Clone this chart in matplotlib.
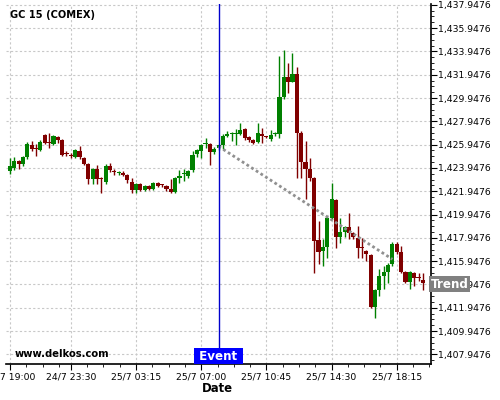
import matplotlib
matplotlib.use("Agg")
import matplotlib.pyplot as plt
import matplotlib.transforms as mtransforms
from matplotlib.ticker import FixedLocator, MultipleLocator, FuncFormatter

# 15 minute candles, GC COMEX
opens = [1423.72, 1423.97, 1424.58, 1424.32, 1424.92, 1425.95, 1425.61, 1425.52, 1426.81, 1426.12,
         1426.04, 1426.64, 1426.38, 1425.18, 1425.02, 1424.92, 1425.43, 1424.83, 1424.32, 1423.03,
         1423.89, 1423.11, 1422.77, 1424.15, 1423.66, 1423.52, 1423.54, 1423.37, 1422.77, 1422.08,
         1422.60, 1422.08, 1422.43, 1422.17, 1422.68, 1422.55, 1422.43, 1422.17, 1421.91, 1423.11,
         1423.42, 1423.29, 1423.80, 1425.18, 1425.43, 1426.02, 1426.04, 1425.35, 1425.69, 1425.95,
         1426.72, 1426.88, 1426.88, 1426.90, 1427.32, 1426.64, 1426.38, 1426.21, 1426.90, 1426.66,
         1426.47, 1426.88, 1426.90, 1430.07, 1431.71, 1431.36, 1432.05, 1426.98, 1424.49, 1423.89,
         1423.11, 1417.79, 1416.85, 1417.19, 1419.68, 1421.22, 1418.05, 1418.48, 1418.91, 1418.39,
         1417.96, 1417.19, 1416.85, 1416.50, 1412.03, 1413.49, 1414.70, 1415.04, 1415.73, 1417.45,
         1416.76, 1415.04, 1414.18, 1414.95, 1414.55, 1414.36]
highs = [1424.83, 1424.92, 1424.66, 1425.00, 1426.21, 1426.29, 1426.04, 1426.38, 1426.90, 1426.98,
         1426.81, 1426.72, 1426.47, 1425.43, 1425.26, 1425.61, 1425.86, 1424.92, 1424.40, 1423.97,
         1424.23, 1423.20, 1424.32, 1424.40, 1423.89, 1423.72, 1423.72, 1423.46, 1423.11, 1422.68,
         1422.68, 1422.51, 1422.51, 1422.77, 1422.77, 1422.60, 1422.51, 1423.03, 1423.20, 1423.80,
         1423.89, 1423.80, 1425.43, 1425.61, 1426.04, 1426.55, 1426.12, 1425.78, 1426.04, 1426.90,
         1427.15, 1427.07, 1427.32, 1427.84, 1427.41, 1426.72, 1426.47, 1427.84, 1427.41, 1426.72,
         1427.24, 1427.07, 1433.51, 1434.11, 1432.99, 1433.77, 1432.57, 1427.15, 1426.29, 1424.83,
         1423.20, 1419.42, 1417.88, 1419.85, 1422.68, 1421.31, 1419.68, 1418.99, 1420.11, 1418.48,
         1418.99, 1417.96, 1416.93, 1416.59, 1413.58, 1415.30, 1415.56, 1415.81, 1417.62, 1417.62,
         1417.28, 1415.13, 1415.13, 1415.04, 1414.95, 1414.95]
lows = [1423.46, 1423.80, 1423.89, 1424.15, 1424.75, 1425.43, 1425.00, 1425.43, 1426.04, 1425.69,
        1425.95, 1426.12, 1425.00, 1425.00, 1424.83, 1424.83, 1424.75, 1424.23, 1422.60, 1422.60,
        1422.60, 1421.83, 1422.60, 1423.63, 1423.37, 1423.37, 1423.29, 1422.68, 1421.83, 1421.83,
        1422.00, 1422.00, 1422.08, 1422.08, 1422.34, 1422.34, 1422.00, 1421.83, 1421.83, 1422.68,
        1422.86, 1423.11, 1423.63, 1424.92, 1424.83, 1425.69, 1424.23, 1425.18, 1425.52, 1425.61,
        1426.64, 1426.29, 1425.95, 1426.81, 1426.38, 1426.21, 1426.04, 1426.12, 1426.12, 1426.55,
        1426.29, 1426.72, 1426.55, 1429.90, 1430.42, 1431.28, 1423.11, 1423.11, 1421.31, 1422.86,
        1414.95, 1415.73, 1415.56, 1416.24, 1419.59, 1417.11, 1417.53, 1418.05, 1417.88, 1417.88,
        1416.24, 1416.24, 1415.98, 1411.95, 1411.09, 1412.98, 1413.58, 1414.09, 1415.56, 1416.59,
        1414.95, 1414.10, 1413.58, 1413.84, 1414.27, 1413.49]
closes = [1424.15, 1424.58, 1424.32, 1424.92, 1426.04, 1425.61, 1425.55, 1426.21, 1426.12, 1426.08,
          1426.72, 1426.38, 1425.09, 1425.12, 1424.97, 1425.52, 1424.92, 1424.32, 1423.03, 1423.89,
          1423.03, 1423.03, 1424.15, 1423.80, 1423.60, 1423.56, 1423.37, 1422.94, 1422.08, 1422.60,
          1422.08, 1422.43, 1422.17, 1422.68, 1422.43, 1422.47, 1422.17, 1421.91, 1423.11, 1423.29,
          1423.46, 1423.72, 1425.09, 1425.52, 1425.95, 1426.06, 1425.35, 1425.61, 1425.95, 1426.72,
          1426.90, 1426.92, 1426.92, 1427.24, 1426.55, 1426.38, 1426.12, 1426.98, 1426.72, 1426.62,
          1426.81, 1426.92, 1430.07, 1431.71, 1431.36, 1432.05, 1426.98, 1424.49, 1423.89, 1423.11,
          1417.71, 1416.76, 1417.19, 1419.68, 1421.31, 1418.05, 1418.48, 1418.91, 1418.39, 1418.05,
          1417.11, 1417.11, 1416.59, 1412.03, 1413.49, 1414.70, 1415.04, 1415.64, 1417.45, 1416.76,
          1415.04, 1414.18, 1415.04, 1414.52, 1414.50, 1414.10]

tick_idx = [0, 14, 29, 44, 59, 74, 89]
tick_labels = ["24/7 19:00", "24/7 23:30", "25/7 03:15", "25/7 07:00",
               "25/7 10:45", "25/7 14:30", "25/7 18:15"]
event_idx = 48
trend_x = [48, 88]
trend_y = [1425.80, 1416.11]

x = list(range(len(opens)))
up_col = "#008000"
down_col = "#800000"
colors = [up_col if c >= o else down_col for o, c in zip(opens, closes)]
bottoms = [min(o, c) for o, c in zip(opens, closes)]
heights = [max(abs(c - o), 0.08) for o, c in zip(opens, closes)]

fig = plt.figure(figsize=(5, 4), dpi=100)
ax = fig.add_axes([0.012, 0.089, 0.849, 0.9])

x_lo, x_hi = -0.92, 96.76
ax.set_xlim(x_lo, x_hi)
ax.set_ylim(1407.09, 1437.98)

# candles
ax.vlines(x, lows, highs, colors=colors, linewidth=1, zorder=3)
ax.bar(x, heights, width=0.95, bottom=bottoms, color=colors, linewidth=0, zorder=3)

# trend line and its projection label
ax.plot(trend_x, trend_y, linestyle=(0, (1, 1)), color="#909090", linewidth=2, zorder=4)
slope = (trend_y[1] - trend_y[0]) / (trend_x[1] - trend_x[0])
trend_end = trend_y[0] + slope * (x_hi - trend_x[0])
ax.text(1.0, trend_end, "Trend", transform=ax.get_yaxis_transform(), ha="left", va="center",
        color="white", fontsize=8.6, fontweight="bold", clip_on=False, zorder=6,
        bbox=dict(boxstyle="square,pad=0.1", facecolor="#808080", edgecolor="none"))

# event marker
ax.axvline(event_idx, color="#0000cc", linewidth=1, zorder=5)
ax.text(event_idx, 0.023, " Event ", transform=ax.get_xaxis_transform(), ha="center",
        va="center", color="white", fontsize=8.6, fontweight="bold", zorder=6,
        bbox=dict(boxstyle="square,pad=0.1", facecolor="#0000ff", edgecolor="none"))

# axes styling
for s in ["top", "left"]:
    ax.spines[s].set_visible(False)
ax.spines["bottom"].set_linewidth(1.2)
ax.spines["right"].set_linewidth(1.2)
ax.yaxis.tick_right()
ax.yaxis.set_major_locator(FixedLocator([1407.9476 + 2 * k for k in range(16)]))
ax.yaxis.set_minor_locator(FixedLocator([1407.9476 + 0.5 * k for k in range(-1, 61)]))
ax.yaxis.set_major_formatter(FuncFormatter(lambda v, p: "{:,.4f}".format(v)))
ax.set_xticks(tick_idx)
ax.set_xticklabels(tick_labels)
minor_x = [t + 3.75 * k for t in tick_idx for k in range(1, 4)]
ax.xaxis.set_minor_locator(FixedLocator([m for m in minor_x if m < x_hi]))
ax.tick_params(axis="both", which="major", labelsize=6.7, length=4, width=0.8, pad=1.5)
ax.tick_params(axis="both", which="minor", length=2, width=0.6)
ax.set_axisbelow(True)
ax.grid(True, which="major", color="#c8c8c8", linestyle=(0, (2, 2)), linewidth=0.8)

fig.text(0.02, 0.9625, "GC 15 (COMEX)", fontsize=7.1, fontweight="bold", va="center")
fig.text(0.03, 0.115, "www.delkos.com", fontsize=7.2, fontweight="bold", va="center")
fig.text(0.434, 0.0275, "Date", fontsize=8.4, fontweight="bold", ha="center", va="center")

fig.savefig("out.png", dpi=100)
